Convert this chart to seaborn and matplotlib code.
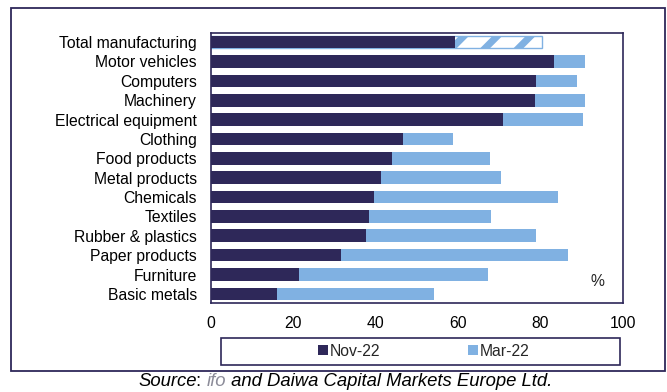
import matplotlib
matplotlib.use("Agg")
import matplotlib.pyplot as plt
import seaborn as sns
import pandas as pd
from matplotlib.patches import Rectangle, Patch

categories = ["Total manufacturing", "Motor vehicles", "Computers", "Machinery",
              "Electrical equipment", "Clothing", "Food products", "Metal products",
              "Chemicals", "Textiles", "Rubber & plastics", "Paper products",
              "Furniture", "Basic metals"]
nov22 = [59.2, 83.3, 78.9, 78.6, 70.9, 46.5, 43.9, 41.3, 39.6, 38.3, 37.5, 31.6, 21.3, 16.0]
mar22 = [80.3, 90.8, 88.8, 90.8, 90.2, 58.7, 67.6, 70.5, 84.3, 68.0, 78.8, 86.7, 67.3, 54.1]
xticks = [0, 20, 40, 60, 80, 100]

DARK = "#2E2859"
LIGHT = "#80B1E2"

sns.set_style("white")
plt.rcParams["font.family"] = ["Liberation Sans", "DejaVu Sans"]
plt.rcParams["hatch.linewidth"] = 5.0

df = pd.DataFrame({"category": categories, "Nov-22": nov22, "Mar-22": mar22})

fig = plt.figure(figsize=(6.67, 3.92), dpi=100)
ax = fig.add_axes([211 / 667, 1 - 303 / 392, 412 / 667, 270 / 392])

sns.barplot(data=df, y="category", x="Mar-22", color=LIGHT, orient="h",
            width=0.65, ax=ax, saturation=1, linewidth=0)
sns.barplot(data=df, y="category", x="Nov-22", color=DARK, orient="h",
            width=0.65, ax=ax, saturation=1, linewidth=0)

# Hatched Total manufacturing Mar-22 bar
p = ax.patches[0]
p.set_facecolor("white")
p.set_edgecolor(LIGHT)
p.set_hatch("/")
p.set_linewidth(1.0)

ax.set_xlim(0, 100)
ax.set_ylim(13.47, -0.47)
ax.set_xticks(xticks)
ax.set_xlabel("")
ax.set_ylabel("")
ax.tick_params(axis="both", length=0, labelsize=11.3, colors="black")
ax.tick_params(axis="y", pad=10)
ax.tick_params(axis="x", pad=9)
for s in ax.spines.values():
    s.set_visible(True)
    s.set_color(DARK)
    s.set_linewidth(1.2)

ax.text(0.937, 0.078, "%", transform=ax.transAxes, fontsize=11.3,
        ha="center", va="center")

# Outer border
fig.patches.append(Rectangle((11 / 667, 1 - 371 / 392), 654 / 667, 363 / 392,
                             transform=fig.transFigure, fill=False,
                             edgecolor=DARK, linewidth=1.3))
# Legend box
fig.patches.append(Rectangle((221 / 667, 1 - 365 / 392), 399 / 667, 27 / 392,
                             transform=fig.transFigure, fill=False,
                             edgecolor=DARK, linewidth=1.2))
handles = [Patch(facecolor=DARK, edgecolor="none", label="Nov-22"),
           Patch(facecolor=LIGHT, edgecolor="none", label="Mar-22")]
fig.legend(handles=handles, loc="center", bbox_to_anchor=(424 / 667, 1 - 351.5 / 392),
           ncol=2, frameon=False, fontsize=11.3, handlelength=0.6, handleheight=0.6,
           handletextpad=0.15, columnspacing=5.6, borderpad=0)

# Source line with mixed colours
fig.canvas.draw()
r = fig.canvas.get_renderer()
pieces = [("Source", "black", "italic"), (": ", "black", "normal"),
          ("ifo", "#8C8C99", "italic"),
          (" and Daiwa Capital Markets Europe Ltd.", "black", "italic")]
x = 138
y = 1 - 382 / 392
for txt, col, sty in pieces:
    t = fig.text(x / 667, y, txt, color=col, style=sty, fontsize=13.3,
                 ha="left", va="center")
    bb = t.get_window_extent(renderer=r)
    x = bb.x1

fig.savefig("out.png", dpi=100)
